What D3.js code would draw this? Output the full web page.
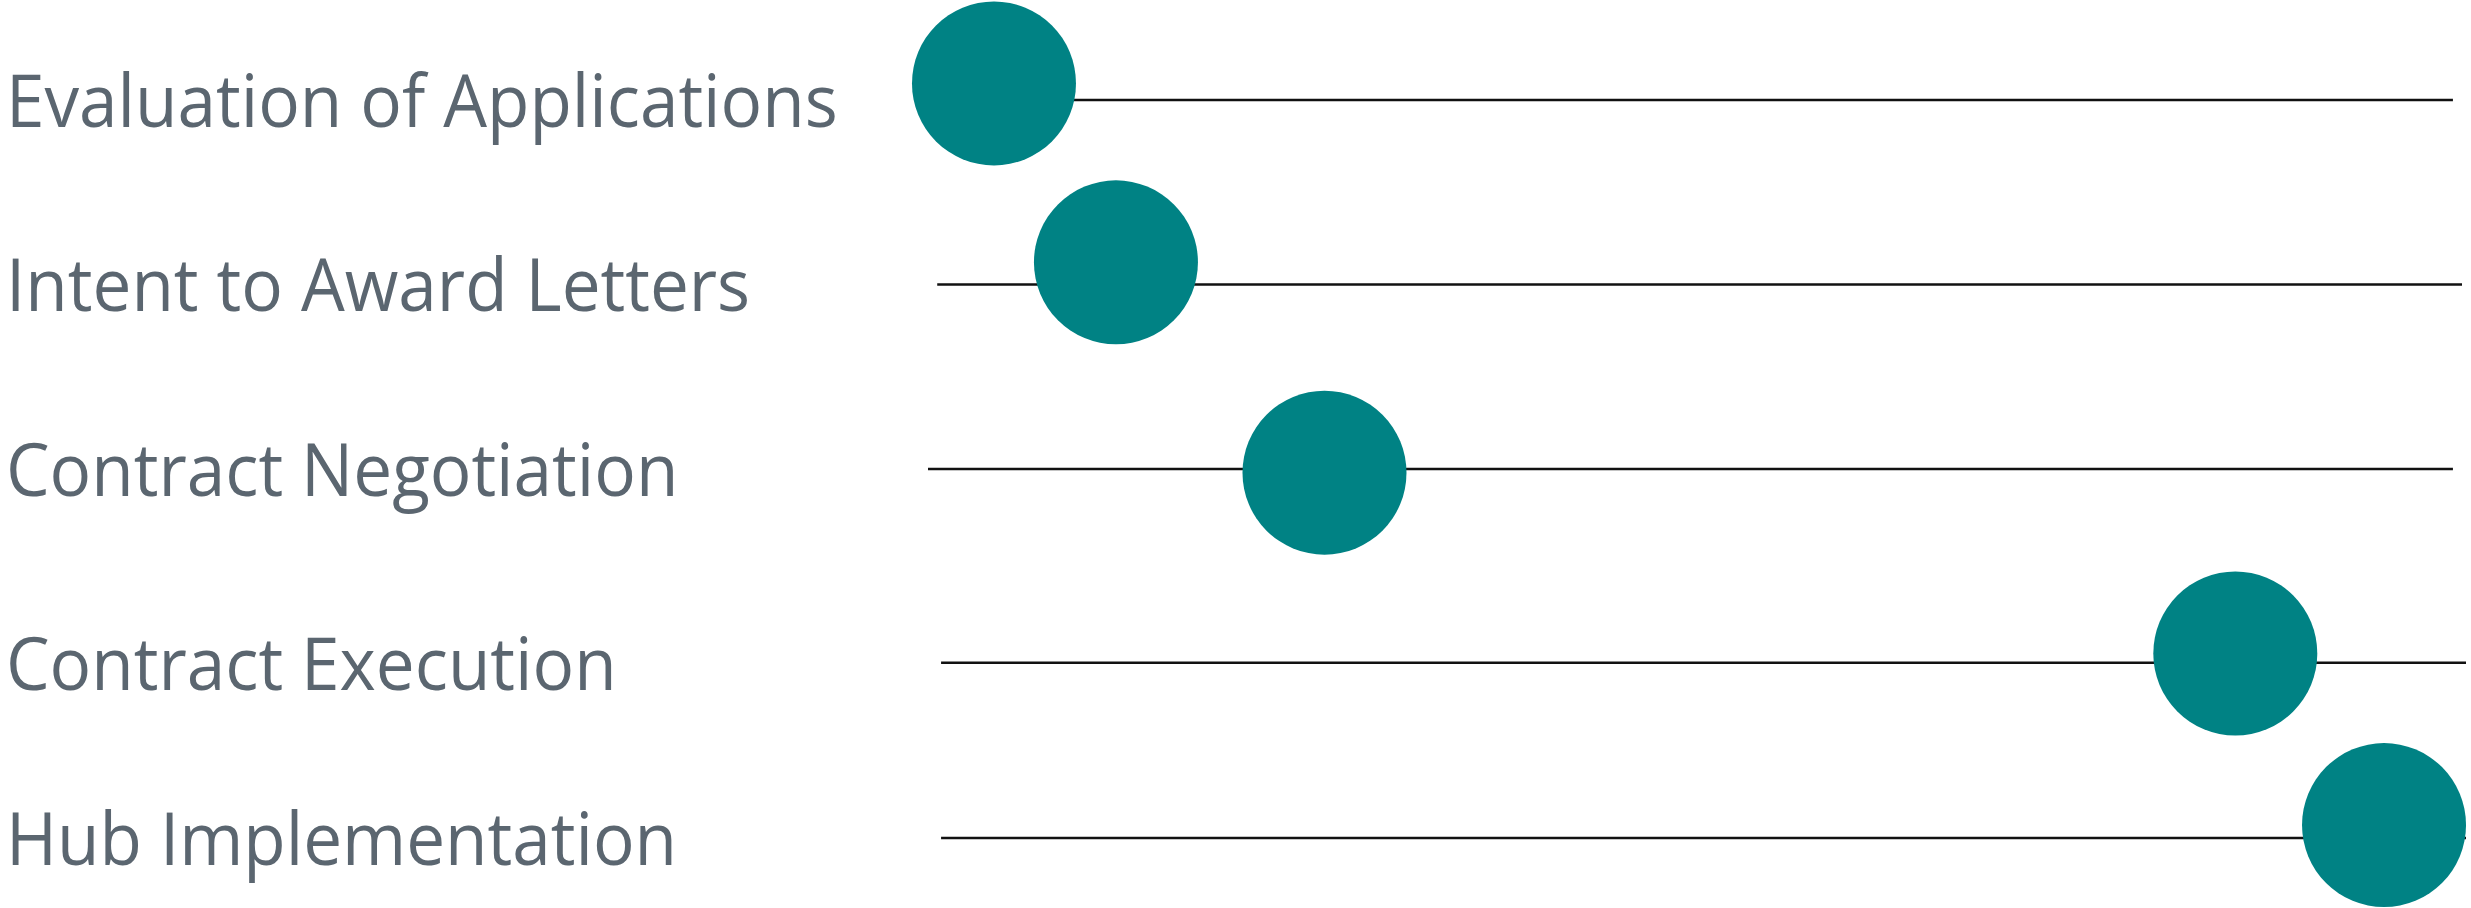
<!DOCTYPE html>
<html>
<head>
<meta charset="utf-8">
<script src="https://cdn.jsdelivr.net/npm/d3@7"></script>
<style>
  body { margin: 0; background: #fff; }
  .label { font-family: "Open Sans", "Noto Sans", sans-serif; fill: #5b6670; }
</style>
</head>
<body>
<div id="chart"></div>
<script>
// data
var tasks = ["Evaluation of Applications", "Intent to Award Letters", "Contract Negotiation", "Contract Execution", "Hub Implementation"];
var lineStart = [0.5, 0.6, 0, 0.85, 0.85];
var lineEnd = [99.15, 99.74, 99.15, 100, 100];
var lineLevel = [5, 4, 3, 1.95, 1];
var pointX = [4.29, 12.22, 25.78, 85.0, 94.67];
var pointLevel = [5.09, 4.12, 2.98, 2.0, 1.07];

var svgWidth = 2471;
var svgHeight = 908;

var svg = d3.select("#chart")
  .append("svg")
  .attr("width", svgWidth)
  .attr("height", svgHeight);

var rows = tasks.map(function(t, i) {
  return {task: t, x0: lineStart[i], x1: lineEnd[i], lv: lineLevel[i], px: pointX[i], pl: pointLevel[i]};
});

// scales
var x = d3.scaleLinear().domain([0, 100]).range([928, 2466]);
var y = d3.scaleLinear().domain([0, 5]).range([1022.5, 100]);

// labels
var labels = svg.append("g");
labels.selectAll("text")
  .data(rows)
  .enter()
  .append("text")
  .attr("class", "label")
  .attr("x", 0)
  .attr("y", d => y(d.lv) + 27)
  .attr("font-size", 74)
  .text(d => d.task);

// squeeze the label column to the width of the original
var firstW = labels.select("text").node().getComputedTextLength();
var sx = 832 / firstW;
labels.attr("transform", `translate(6,0) scale(${sx},1)`);

// lines
svg.selectAll("line.row")
  .data(rows)
  .enter()
  .append("line")
  .attr("class", "row")
  .attr("x1", d => x(d.x0))
  .attr("x2", d => x(d.x1))
  .attr("y1", d => y(d.lv))
  .attr("y2", d => y(d.lv))
  .attr("stroke", "#111")
  .attr("stroke-width", 2.4);

// milestone dots
svg.selectAll("circle")
  .data(rows)
  .enter()
  .append("circle")
  .attr("cx", d => x(d.px))
  .attr("cy", d => y(d.pl))
  .attr("r", 82)
  .attr("fill", "#008284");
</script>
</body>
</html>
